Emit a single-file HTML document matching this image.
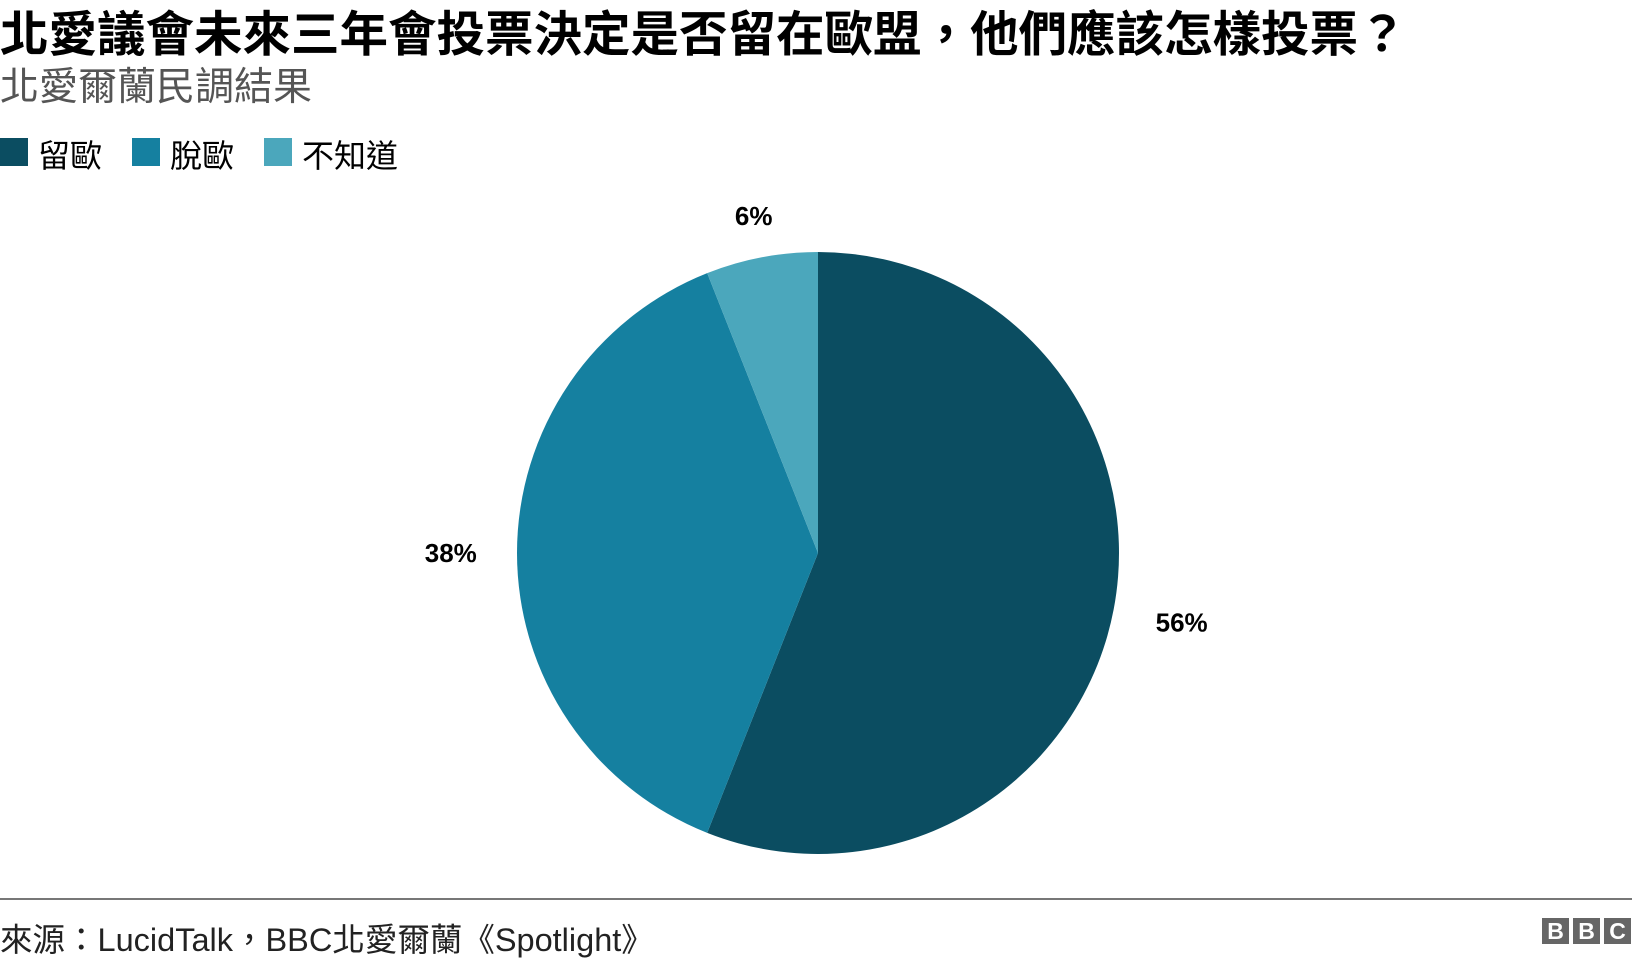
<!DOCTYPE html>
<html><head><meta charset="utf-8"><style>
body{margin:0;width:1632px;height:956px;background:#fff;position:relative;overflow:hidden;font-family:"Liberation Sans","Noto Sans CJK TC",sans-serif}
.a{position:absolute;white-space:nowrap}
</style></head><body>
<div class="a" style="left:0;top:-5px;font-size:48.5px;font-weight:bold;color:#000">北愛議會未來三年會投票決定是否留在歐盟，他們應該怎樣投票？</div>
<div class="a" style="left:0;top:56px;font-size:39px;color:#555">北愛爾蘭民調結果</div>
<div>
<div class="a" style="left:0;top:138px;width:28px;height:28px;background:#0b4d61"></div>
<div class="a" style="left:38px;top:131px;font-size:32px">留歐</div>
<div class="a" style="left:132px;top:138px;width:28px;height:28px;background:#1580a0"></div>
<div class="a" style="left:170px;top:131px;font-size:32px">脫歐</div>
<div class="a" style="left:264px;top:138px;width:28px;height:28px;background:#4ba7bc"></div>
<div class="a" style="left:302px;top:131px;font-size:32px">不知道</div>
</div>
<svg id="pie" class="a" style="left:0;top:0" width="1632" height="956"></svg>
<div class="a" style="left:0;top:898px;width:1632px;height:2px;background:#777"></div>
<div class="a" style="left:0;top:914px;font-size:32.5px;color:#222">來源：LucidTalk，BBC北愛爾蘭《Spotlight》</div>
<div class="a" style="left:1542px;top:918px;display:flex;gap:4px">
<span style="width:27px;height:26px;background:#666;color:#fff;font-weight:bold;font-size:23px;text-align:center;line-height:26px">B</span>
<span style="width:27px;height:26px;background:#666;color:#fff;font-weight:bold;font-size:23px;text-align:center;line-height:26px">B</span>
<span style="width:27px;height:26px;background:#666;color:#fff;font-weight:bold;font-size:23px;text-align:center;line-height:26px">C</span>
</div>
<script>
const categories=["留歐","脫歐","不知道"];
const values=[56,38,6];
const labels=["56%","38%","6%"];
const colors=["#0b4d61","#1580a0","#4ba7bc"];
const svg=document.getElementById('pie');
const NS="http://www.w3.org/2000/svg";
const cx=818,cy=553,r=301;
const total=values.reduce((a,b)=>a+b,0);
let acc=0;
function pt(frac,rad){const a=frac*2*Math.PI;return [cx+rad*Math.sin(a),cy-rad*Math.cos(a)];}
const labelR=[1.23,1.22,1.14];
values.forEach((v,i)=>{
  const s=acc/total,e=(acc+v)/total;acc+=v;
  const p1=pt(s,r),p2=pt(e,r);
  const path=document.createElementNS(NS,'path');
  path.setAttribute('d',`M${cx},${cy}L${p1[0]},${p1[1]}A${r},${r} 0 ${e-s>0.5?1:0} 1 ${p2[0]},${p2[1]}Z`);
  path.setAttribute('fill',colors[i]);
  
  
  svg.appendChild(path);
  const m=pt((s+e)/2,r*labelR[i]);
  const t=document.createElementNS(NS,'text');
  t.setAttribute('x',m[0]);t.setAttribute('y',m[1]+9);
  t.setAttribute('text-anchor','middle');
  t.setAttribute('font-size','26');t.setAttribute('font-weight','bold');
  t.setAttribute('font-family','Liberation Sans, sans-serif');
  t.textContent=labels[i];
  
  
  svg.appendChild(t);
});
</script>
</body></html>
